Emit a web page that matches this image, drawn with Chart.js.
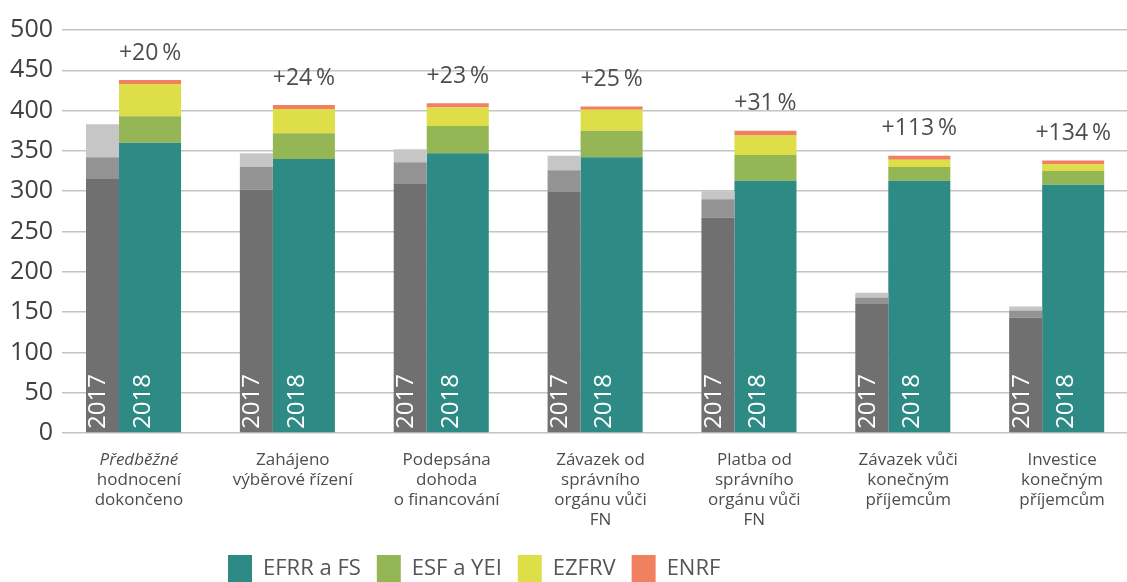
<!DOCTYPE html>
<html lang="cs">
<head>
<meta charset="utf-8">
<title>Finanční nástroje 2017 / 2018</title>
<script src="https://cdn.jsdelivr.net/npm/chart.js@4.4.1/dist/chart.umd.min.js"></script>
<style>
  html, body { margin: 0; padding: 0; background: #fff; overflow: hidden; }
  #wrap { width: 1139px; height: 582px; }
</style>
</head>
<body>
<div id="wrap"><canvas id="chart" width="1139" height="582"></canvas></div>
<script>
const categories = [
  ['Předběžné', 'hodnocení', 'dokončeno'],
  ['Zahájeno', 'výběrové řízení'],
  ['Podepsána', 'dohoda', 'o financování'],
  ['Závazek od', 'správního', 'orgánu vůči', 'FN'],
  ['Platba od', 'správního', 'orgánu vůči', 'FN'],
  ['Závazek vůči', 'konečným', 'příjemcům'],
  ['Investice', 'konečným', 'příjemcům']
];
const growth = ['+20\u2009%', '+24\u2009%', '+23\u2009%', '+25\u2009%', '+31\u2009%', '+113\u2009%', '+134\u2009%'];
const yTicks = [0, 50, 100, 150, 200, 250, 300, 350, 400, 450, 500];

// 2017 (grey)
const dark2017 = [315, 302, 309, 299, 267, 160, 143];
const mid2017 = [27, 28, 27, 27, 23, 8, 9];
const light2017 = [41, 17, 16, 18, 10, 6, 5];

// 2018
const efrr = [360, 340, 347, 342, 313, 313, 308];
const esf = [33, 32, 34, 33, 32, 17, 17];
const ezfrv = [40, 30, 23, 26, 24, 9, 8];
const enrf = [5, 5, 5, 4, 6, 5, 5];

const FONT = '"Open Sans", "DejaVu Sans", sans-serif';

function set2017(label, data, color) {
  return { label, data, backgroundColor: color, stack: '2017', borderWidth: 0,
    categoryPercentage: 0.9467, barPercentage: 0.4533 };
}
function set2018(label, data, color) {
  return { label, data, backgroundColor: color, stack: '2018', borderWidth: 0,
    categoryPercentage: 0.2887, barPercentage: 2.793 };
}

const labelsPlugin = {
  id: 'labels',
  afterLayout(chart) {
    // legend sits lower left, partly cut by the bottom edge
    const lg = chart.legend;
    lg.left = 212;
    lg.right = 1127;
    lg.width = lg.right - lg.left;
    lg.top = 539;
    lg.bottom = 582;
    lg.height = lg.bottom - lg.top;
  },
  afterDraw(chart) {
    const ctx = chart.ctx;
    const area = chart.chartArea;
    const x = chart.scales.x;
    const first2017 = chart.getDatasetMeta(0).data;
    const first2018 = chart.getDatasetMeta(3).data;
    const top2018 = chart.getDatasetMeta(6).data;
    ctx.save();

    // category labels
    ctx.fillStyle = '#4d4d4d';
    ctx.textAlign = 'center';
    ctx.textBaseline = 'alphabetic';
    categories.forEach((lines, i) => {
      const cx = x.getPixelForValue(i);
      lines.forEach((line, k) => {
        ctx.font = (i === 0 && k === 0 ? 'italic ' : '') + '17px ' + FONT;
        ctx.fillText(line, cx, area.bottom + 32 + k * 20);
      });
    });

    // growth labels above 2018 bars
    ctx.font = '23px ' + FONT;
    ctx.fillStyle = '#4d4d4d';
    ctx.textBaseline = 'middle';
    top2018.forEach((bar, i) => {
      ctx.fillText(growth[i], bar.x, bar.y - 27);
    });

    // year labels inside bars
    ctx.font = '24px ' + FONT;
    ctx.fillStyle = '#ffffff';
    ctx.textAlign = 'left';
    const drawYear = (txt, px) => {
      ctx.save();
      ctx.translate(px, area.bottom - 4);
      ctx.rotate(-Math.PI / 2);
      ctx.fillText(txt, 0, 0);
      ctx.restore();
    };
    first2017.forEach(bar => drawYear('2017', bar.x - 4));
    first2018.forEach(bar => drawYear('2018', bar.x - 7));
    ctx.restore();
  }
};

new Chart(document.getElementById('chart'), {
  type: 'bar',
  data: {
    labels: categories,
    datasets: [
      set2017('2017 EFRR a FS', dark2017, '#707070'),
      set2017('2017 ESF a YEI', mid2017, '#939393'),
      set2017('2017 ostatní', light2017, '#c6c6c6'),
      set2018('EFRR a FS', efrr, '#2d8a85'),
      set2018('ESF a YEI', esf, '#95b655'),
      set2018('EZFRV', ezfrv, '#dedf48'),
      set2018('ENRF', enrf, '#f08060')
    ]
  },
  options: {
    responsive: false,
    animation: false,
    devicePixelRatio: 1,
    layout: { padding: { top: 30, bottom: 96, left: 0, right: 0 } },
    plugins: {
      tooltip: { enabled: false },
      legend: {
        position: 'bottom',
        align: 'start',
        labels: {
          filter: item => !item.text.startsWith('2017'),
          boxWidth: 24,
          boxHeight: 27,
          padding: 16,
          color: '#555555',
          font: { family: FONT, size: 22 }
        }
      }
    },
    scales: {
      x: {
        display: false,
        stacked: true
      },
      y: {
        stacked: true,
        min: 0,
        max: 500,
        afterBuildTicks: scale => { scale.ticks = yTicks.map(v => ({ value: v })); },
        afterFit: scale => { scale.width = 62; },
        border: { display: false },
        grid: { color: '#c4c4c4', lineWidth: 1.5, drawTicks: false },
        ticks: { padding: 9, color: '#404040', font: { family: FONT, size: 25 } }
      }
    }
  },
  plugins: [labelsPlugin]
});
</script>
</body>
</html>
